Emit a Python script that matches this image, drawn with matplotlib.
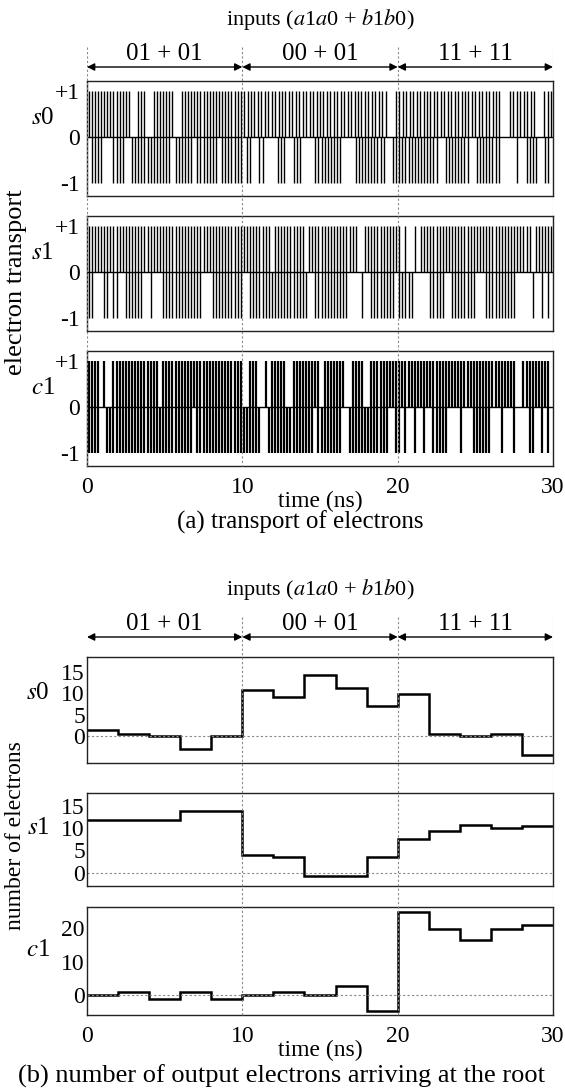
import numpy as np
import matplotlib
matplotlib.use("Agg")
import matplotlib.pyplot as plt
from matplotlib import transforms

plt.rcParams["font.family"] = ["Liberation Serif", "DejaVu Serif"]
plt.rcParams["mathtext.fontset"] = "stix"
plt.rcParams["font.size"] = 17

# spike trains (a): one string per 10 ns input window, '1' = electron event in that slot
s0_up = ["11111111111111001110011111110011111111111111111111",
         "111111111111111111111111111111111111111111001",
         "111111111111111111111111111111001111111100111"]
s0_dn = ["01111000111100111111111111101111110111111101111111",
         "01100110000111001110000111111111000011111111110011",
         "11111111111110011111111001111111100000100111100110"]
s1_up = ["11111111111111111111111111111111111111111111111111",
         "11111111101111111111011111111111111110011111111111",
         "10100101111111111111111111111111111111111110111111"]
s1_dn = ["11000110110011111100100011111111111110001111111111",
         "00111111111111111111100111111111110000100111111110",
         "11111000001111100111111110001111111111000001001010"]
c1_up = ["11110100111111111111111011111111111111111111111111",
         "00111001011111001111111110111111100111100111111111",
         "11111111111111111111111111111111111111001111111110"]
c1_dn = ["11110011111111111111111111111111110111111111111111",
         "11111100111111111111111011111111001111111111111001",
         "10100100100111110000100011111100010001000011001010"]

# electron counts (b), 2 ns bins
bin_edges = [0, 2, 4, 6, 8, 10, 12, 14, 16, 18, 20, 22, 24, 26, 28, 30]
s0_count = [1.4, 0.6, 0, -3.1, 0, 10.8, 9.1, 14.3, 11.2, 7.0, 9.8, 0.6, 0, 0.6, -4.4]
s1_count = [11.8, 11.8, 11.8, 13.7, 13.7, 4.0, 3.5, -0.7, -0.7, 3.5, 7.6, 9.4, 10.6, 10.0, 10.5]
c1_count = [0, 0.9, -1.0, 0.9, -1.0, 0, 0.9, 0, 2.9, -4.5, 24.6, 19.8, 16.3, 19.8, 20.8]

windows = [0, 10, 20, 30]
window_labels = ["01 + 01", "00 + 01", "11 + 11"]
xticks = [0, 10, 20, 30]

W, H = 565, 1089
X0, X1 = 87, 553
fig = plt.figure(figsize=(W / 100, H / 100), dpi=100)


def box(top, bot):
    return [X0 / W, 1 - bot / H, (X1 - X0) / W, (bot - top) / H]


def event_times(segs):
    t = []
    for k, s in enumerate(segs):
        n = len(s)
        for i, c in enumerate(s):
            if c == "1":
                t.append(windows[k] + (i + 0.5) * 10 / n)
    return t


def style(ax, ypad):
    for sp in ax.spines.values():
        sp.set_color("#222222")
        sp.set_linewidth(1.0)
    ax.tick_params(direction="in", length=0)
    ax.tick_params(axis="y", pad=ypad)
    ax.tick_params(axis="x", pad=8)
    ax.set_xlim(0, 30)
    ax.set_xticks(xticks)
    ax.set_xticklabels([])


def overlay(top, bot, dash_from):
    ov = fig.add_axes(box(0, H), facecolor="none")
    ov.set_xlim(0, 30)
    ov.set_ylim(H, 0)
    ov.axis("off")
    for x in windows[dash_from:]:
        ov.plot([x, x], [top + 27, bot], color="#888888", lw=0.8, ls=(0, (2, 2)))
    for k, lab in enumerate(window_labels):
        ov.annotate("", xy=(windows[k + 1], top + 47), xytext=(windows[k], top + 47),
                    arrowprops=dict(arrowstyle="<|-|>", color="k", lw=1.0,
                                    mutation_scale=11, shrinkA=0, shrinkB=0))
        ov.text(windows[k] + 5, top + 34, lab, ha="center", va="center", fontsize=18)
    ov.text(15, top, r"inputs ($a$1$a$0 + $b$1$b$0)", ha="center", va="center", fontsize=16)


# ---- (a) transport of electrons
names = [r"$s$0", r"$s$1", r"$c$1"]
ups = [s0_up, s1_up, c1_up]
dns = [s0_dn, s1_dn, c1_dn]
top_boxes = [(81, 196), (216, 331), (351, 466)]
for i in range(3):
    ax = fig.add_axes(box(*top_boxes[i]))
    lw = 1.6 if i == 2 else 1.0
    ax.vlines(event_times(ups[i]), 0, 1, color="k", lw=lw)
    ax.vlines(event_times(dns[i]), -1, 0, color="k", lw=lw)
    ax.axhline(0, color="k", lw=1.0)
    style(ax, 5)
    ax.set_ylim(-1.27, 1.21)
    ax.set_yticks([-1, 0, 1])
    ax.set_yticklabels(["-1", "0", "+1"])
    tr = transforms.blended_transform_factory(ax.transAxes, ax.transData)
    ax.text(-0.095, 0.42, names[i], transform=tr, ha="center", va="center", fontsize=18)
    if i == 2:
        ax.set_xticklabels([str(v) for v in xticks])

overlay(20, 466, 0)
cx = 0.5 * (X0 + X1) / W
fig.text(cx, 1 - 501 / H, "time (ns)", ha="center", va="center", fontsize=17)
fig.text(300 / W, 1 - 522 / H, "(a) transport of electrons", ha="center", va="center", fontsize=18)
fig.text(16 / W, 1 - 282 / H, "electron transport", rotation=90, ha="center", va="center", fontsize=19)

# ---- (b) number of output electrons
counts = [s0_count, s1_count, c1_count]
bot_boxes = [(657, 763), (793, 886), (907, 1015)]
ylims = [(-6.3, 18.5), (-3.0, 17.8), (-5.8, 26.2)]
yticks = [[0, 5, 10, 15], [0, 5, 10, 15], [0, 10, 20]]
name_y = [10, 10, 13.5]
for i in range(3):
    ax = fig.add_axes(box(*bot_boxes[i]))
    ax.axhline(0, color="#888888", lw=0.8, ls=(0, (2, 2)))
    ax.stairs(counts[i], bin_edges, baseline=None, color="k", lw=1.8)
    style(ax, 1.5)
    ax.set_ylim(*ylims[i])
    ax.set_yticks(yticks[i])
    ax.set_yticklabels([str(v) for v in yticks[i]])
    tr = transforms.blended_transform_factory(ax.transAxes, ax.transData)
    ax.text(-0.105, name_y[i], names[i], transform=tr, ha="center", va="center", fontsize=18)
    if i == 2:
        ax.set_xticklabels([str(v) for v in xticks])

overlay(590, 1015, 1)
fig.text(cx, 1 - 1050 / H, "time (ns)", ha="center", va="center", fontsize=17)
fig.text(282 / W, 1 - 1076 / H, "(b) number of output electrons arriving at the root",
         ha="center", va="center", fontsize=19)
fig.text(16 / W, 1 - 836 / H, "number of electrons", rotation=90, ha="center", va="center", fontsize=17)

fig.savefig("out.png", dpi=100)
